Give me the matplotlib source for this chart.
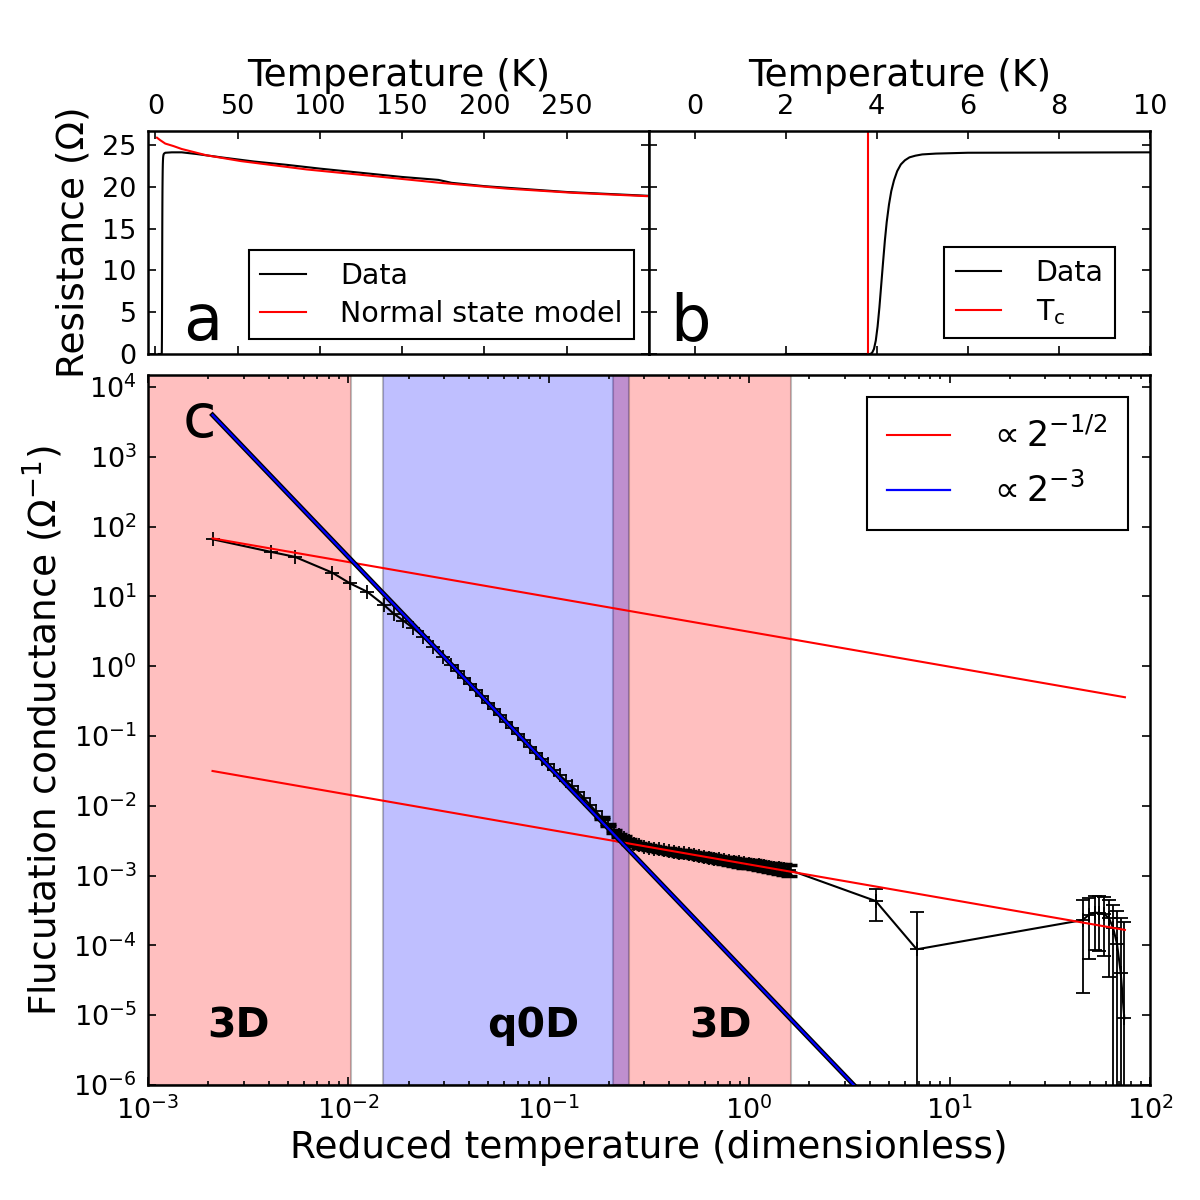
import numpy as np
import matplotlib
matplotlib.use("Agg")
import matplotlib.pyplot as plt

plt.rcParams["font.family"] = ["DejaVu Sans"]
plt.rcParams["mathtext.default"] = "regular"
plt.rcParams["mathtext.fontset"] = "dejavusans"

# Panel a / b: resistance vs temperature
data_T = [2.0, 3.86, 3.90, 3.94, 3.98, 4.02, 4.06, 4.10, 4.14, 4.18, 4.22, 4.27, 4.32,
          4.38, 4.45, 4.53, 4.62, 4.72, 4.85, 5.0, 5.3, 6.0, 10.0, 16.0,
          25.0, 40.0, 60.0, 80.0, 100.0, 130.0, 150.0, 172.0, 180.0, 200.0, 250.0, 299.0]
data_R = [0.0, 0.0, 0.15, 0.6, 1.6, 3.3, 5.6, 8.3, 11.0, 13.6, 15.8, 17.9, 19.5,
          20.8, 21.9, 22.7, 23.2, 23.55, 23.75, 23.9, 24.0, 24.1, 24.15, 24.15,
          23.95, 23.55, 23.05, 22.65, 22.2, 21.6, 21.2, 20.85, 20.5, 20.1, 19.4, 18.95]

model_T = [1.0, 3.0, 6.0, 11.0, 16.0, 21.0, 31.0, 52.0, 92.0, 133.0, 173.0, 214.0, 254.0, 299.0]
model_R = [25.9, 25.6, 25.2, 24.9, 24.55, 24.3, 23.8, 23.1, 22.1, 21.3, 20.5, 19.8, 19.3, 18.9]

T_c = 3.82

# Panel c: fluctuation conductance vs reduced temperature
eps = [0.0021, 0.0041, 0.0054, 0.0083, 0.0102, 0.0124, 0.0151, 0.0168, 0.0188, 0.0211,
       0.0237, 0.0265, 0.0297, 0.0327,
       0.0351, 0.0376, 0.0403, 0.0432, 0.0462, 0.0496, 0.0531, 0.0569, 0.0610, 0.0653,
       0.0700, 0.0750, 0.0804, 0.0861, 0.0923, 0.0989, 0.1059, 0.1135, 0.1216, 0.1303,
       0.1396, 0.1496, 0.1603, 0.1718, 0.1841, 0.1972, 0.2113,
       0.2239, 0.2371, 0.2512, 0.2661, 0.2818, 0.2985, 0.3162, 0.3350, 0.3548, 0.3758,
       0.3981, 0.4217, 0.4467, 0.4732, 0.5012, 0.5309, 0.5623, 0.5957, 0.6310, 0.6683,
       0.7079, 0.7499, 0.7943, 0.8414, 0.8913, 0.9441, 1.000, 1.059, 1.122, 1.189,
       1.259, 1.334, 1.413, 1.496, 1.585,
       4.28, 6.86, 46.1, 49.6, 52.9, 56.0, 59.2, 62.5, 65.6, 68.5, 71.5, 74.5]
sigma = [66.0, 43.6, 37.0, 22.0, 15.4, 11.7, 7.5, 5.7, 4.5, 3.5,
         2.65, 1.9, 1.37, 1.04,
         0.845, 0.687, 0.558, 0.454, 0.369, 0.300, 0.244, 0.198, 0.161, 0.131,
         0.1064, 0.0865, 0.0703, 0.0571, 0.0469, 0.0392, 0.0327, 0.0274, 0.0229, 0.0191,
         0.01596, 0.01297, 0.0104, 8.34e-3, 6.68e-3, 5.36e-3, 4.30e-3,
         3.80e-3, 3.43e-3, 3.09e-3, 2.88e-3, 2.72e-3, 2.60e-3, 2.51e-3, 2.44e-3, 2.37e-3, 2.31e-3,
         2.25e-3, 2.19e-3, 2.14e-3, 2.09e-3, 2.04e-3, 1.99e-3, 1.93e-3, 1.87e-3, 1.82e-3, 1.76e-3,
         1.72e-3, 1.67e-3, 1.63e-3, 1.59e-3, 1.55e-3, 1.51e-3, 1.48e-3, 1.44e-3, 1.40e-3, 1.37e-3,
         1.33e-3, 1.30e-3, 1.27e-3, 1.24e-3, 1.21e-3,
         4.33e-4, 8.8e-5, 2.31e-4, 2.75e-4, 2.95e-4, 2.93e-4, 2.80e-4, 2.45e-4, 1.75e-4,
         1.05e-4, 4.0e-5, 9.0e-6]
sigma_err = 2.1e-4
band_start = 38  # from here the error bars become visible as a thick band
band_end = 76    # last point of the dense run (eps = 1.585)

# power-law guides (end points)
half_x = [0.0021, 75.0]
half_upper_y = [68.0, 0.36]
half_lower_y = [0.0316, 1.67e-4]
cube_x = [0.0021, 75.0]
cube_y = [3980.0, 8.75e-11]

red_spans = [(1.0e-3, 0.0103), (0.209, 1.62)]
blue_span = (0.0149, 0.251)
region_labels = ["3D", "q0D", "3D"]
region_x = [2.83e-3, 0.0839, 0.723]

tick_fs = 19.5
label_fs = 27

fig = plt.figure(figsize=(12, 12), dpi=100)
ax_a = fig.add_axes([0.1233, 0.705, 0.4175, 0.1858])
ax_b = fig.add_axes([0.5408, 0.705, 0.4175, 0.1858], sharey=ax_a)
ax_c = fig.add_axes([0.1233, 0.0958, 0.835, 0.5917])

for ax in (ax_a, ax_b, ax_c):
    for sp in ax.spines.values():
        sp.set_linewidth(1.8)
    ax.tick_params(which="both", direction="in", top=True, right=True,
                   labelsize=tick_fs, width=1.2)
    ax.tick_params(which="major", length=6, pad=8)
    ax.tick_params(which="minor", length=3)

legend_kw = dict(loc="lower right", borderaxespad=0, fontsize=20.5,
                 handlelength=1.6, handletextpad=1.2, labelspacing=0.35,
                 fancybox=False, framealpha=1, edgecolor="k", borderpad=0.4)

# panel a
ax_a.plot(data_T, data_R, color="k", lw=1.5, label="Data")
ax_a.plot(model_T, model_R, color="r", lw=1.5, label="Normal state model")
ax_a.set_xlim(-4.5, 300)
ax_a.set_ylim(0, 26.7)
ax_a.set_xticks([0, 50, 100, 150, 200, 250])
ax_a.set_yticks([0, 5, 10, 15, 20, 25])
ax_a.tick_params(labeltop=True, labelbottom=False)
ax_a.xaxis.set_label_position("top")
ax_a.set_xlabel("Temperature (K)", fontsize=label_fs, labelpad=6)
ax_a.set_ylabel("Resistance (Ω)", fontsize=label_fs, labelpad=8)
leg_a = ax_a.legend(bbox_to_anchor=(0.97, 0.067), **legend_kw)
leg_a.get_frame().set_linewidth(1.5)
ax_a.text(0.07, 0.063, "a", transform=ax_a.transAxes, fontsize=46, va="baseline")

# panel b
ax_b.plot(data_T, data_R, color="k", lw=1.5, label="Data")
ax_b.axvline(T_c, color="r", lw=1.5, label=r"T$_{c}$")
ax_b.set_xlim(-1, 10)
ax_b.set_xticks([0, 2, 4, 6, 8, 10])
ax_b.tick_params(labeltop=True, labelbottom=False, labelleft=False)
ax_b.xaxis.set_label_position("top")
ax_b.set_xlabel("Temperature (K)", fontsize=label_fs, labelpad=6)
leg_b = ax_b.legend(bbox_to_anchor=(0.93, 0.072), **legend_kw)
leg_b.get_frame().set_linewidth(1.5)
ax_b.text(0.042, 0.063, "b", transform=ax_b.transAxes, fontsize=46, va="baseline")

# panel c
for lo, hi in red_spans:
    ax_c.axvspan(lo, hi, facecolor="red", edgecolor="k", alpha=0.25, lw=1.5, zorder=0)
ax_c.axvspan(blue_span[0], blue_span[1], facecolor="blue", edgecolor="k",
             alpha=0.25, lw=1.5, zorder=0)

ax_c.plot(eps, sigma, "-", color="k", marker="+", ms=10, mew=1.3, lw=1.5, zorder=2)
ax_c.errorbar(eps[band_start:band_end], sigma[band_start:band_end], yerr=sigma_err,
              fmt="none", ecolor="k", elinewidth=4.0, capsize=6, capthick=2.5, zorder=2)
ax_c.errorbar(eps[band_end:], sigma[band_end:], yerr=sigma_err, fmt="none", ecolor="k",
              elinewidth=1.3, capsize=5, capthick=1.3, zorder=2)

ax_c.plot(half_x, half_upper_y, color="r", lw=1.5, zorder=3, label=r"$\propto 2^{-1/2}$")
ax_c.plot(half_x, half_lower_y, color="r", lw=1.5, zorder=3)
ax_c.plot(cube_x, cube_y, color="k", lw=3.5, zorder=4)
ax_c.plot(cube_x, cube_y, color="b", lw=1.6, zorder=5, label=r"$\propto 2^{-3}$")

ax_c.set_xscale("log")
ax_c.set_yscale("log")
ax_c.set_xlim(1e-3, 1e2)
ax_c.set_ylim(1e-6, 1.49e4)
ax_c.set_yticks([10.0 ** k for k in range(-6, 5)])
ax_c.set_xlabel("Reduced temperature (dimensionless)", fontsize=label_fs, labelpad=4)
ax_c.set_ylabel("Flucutation conductance (Ω$^{-1}$)", fontsize=label_fs, labelpad=6)

leg_c = ax_c.legend(loc="upper right", bbox_to_anchor=(0.978, 0.969), borderaxespad=0,
                    fontsize=25, handlelength=1.8, handletextpad=1.1,
                    labelspacing=0.55, fancybox=False, framealpha=1,
                    edgecolor="k", borderpad=0.6)
leg_c.get_frame().set_linewidth(1.5)

for lab, xv in zip(region_labels, region_x):
    ax_c.text(xv, 0.0676, lab, transform=ax_c.get_xaxis_transform(), fontsize=29.5,
              fontweight="bold", ha="center", va="baseline")
ax_c.text(0.035, 0.913, "c", transform=ax_c.transAxes, fontsize=44, va="baseline")

fig.savefig("out.png", dpi=100)
